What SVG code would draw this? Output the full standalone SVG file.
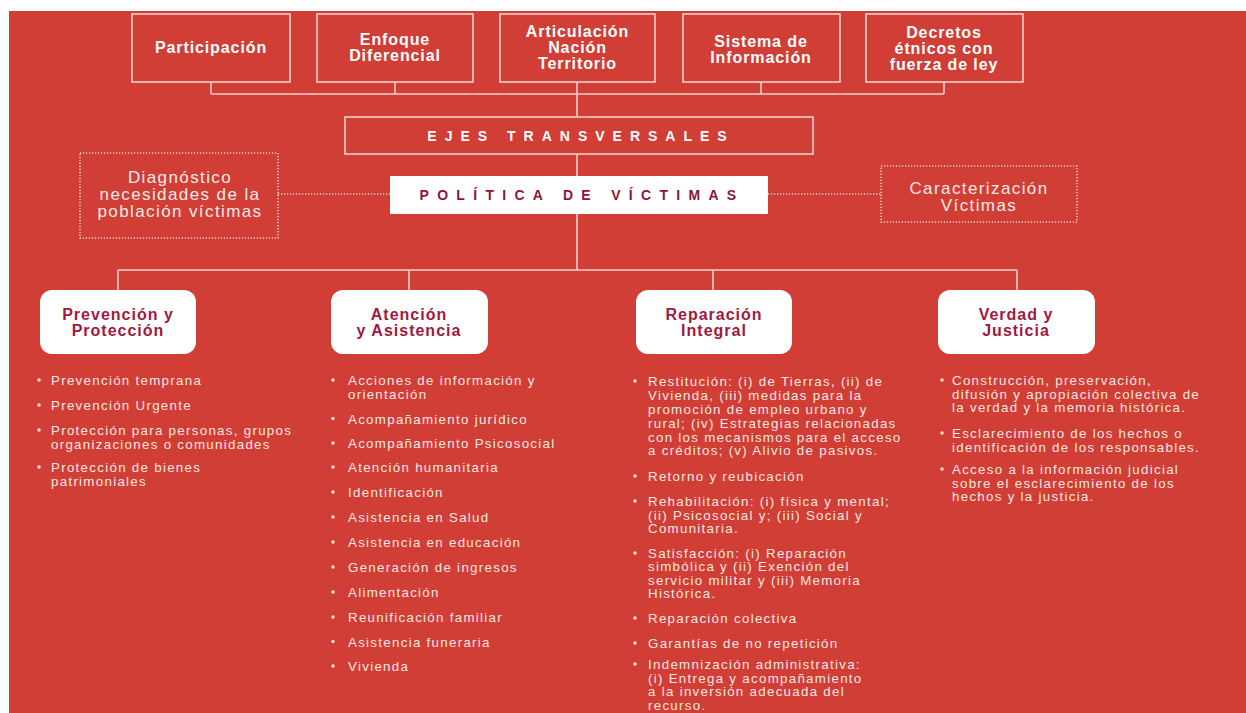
<svg xmlns="http://www.w3.org/2000/svg" width="1246" height="713" viewBox="0 0 1246 713">
<style>
.frame{fill:none;stroke:#EFCFCA;stroke-width:1.6}
.dframe{fill:none;stroke:#EFCFCA;stroke-width:1.6;stroke-dasharray:1.2 1.8}
.conn line{stroke:#EFCFCA;stroke-width:1.6}
.conn .dl{stroke-dasharray:1.2 1.8}
.wbox{fill:#FFFFFF}
text{font-family:"Liberation Sans",Arial,sans-serif}
.tt{fill:#FFFFFF;font-size:16px;font-weight:bold;text-anchor:middle;letter-spacing:0.9px}
.sp{fill:#FFFFFF;font-size:14px;font-weight:bold;text-anchor:middle;letter-spacing:8px}
.spr{fill:#8E1538;font-size:14px;font-weight:bold;text-anchor:middle;letter-spacing:8.3px}
.dt{fill:#FBEAE7;font-size:17px;text-anchor:middle;letter-spacing:1.4px}
.ch{fill:#A0193F;font-size:16px;font-weight:bold;text-anchor:middle;letter-spacing:1px}
.lt{fill:#FBE6E2;font-size:13.3px;letter-spacing:1.3px}
.bu{fill:#FBE6E2}
</style>
<rect x="0" y="0" width="1246" height="713" fill="#FFFFFF"/>
<rect x="9" y="11" width="1237" height="702" fill="#D03E36"/>

<g id="connectors" class="conn">
<line x1="211" y1="82" x2="211" y2="94"/>
<line x1="395" y1="82" x2="395" y2="94"/>
<line x1="577" y1="82" x2="577" y2="117"/>
<line x1="761" y1="82" x2="761" y2="94"/>
<line x1="944" y1="82" x2="944" y2="94"/>
<line x1="211" y1="94" x2="944" y2="94"/>
<line x1="577" y1="154" x2="577" y2="176"/>
<line x1="577" y1="214" x2="577" y2="270"/>
<line x1="118" y1="270" x2="1017" y2="270"/>
<line x1="118" y1="270" x2="118" y2="290"/>
<line x1="409" y1="270" x2="409" y2="290"/>
<line x1="713" y1="270" x2="713" y2="290"/>
<line x1="1017" y1="270" x2="1017" y2="290"/>
<line class="dl" x1="278" y1="194" x2="390" y2="194"/>
<line class="dl" x1="768" y1="194" x2="881" y2="194"/>
</g>

<g id="participacion">
<rect class="frame" x="132" y="14" width="158" height="68"/>
<text class="tt" x="211" y="53">Participación</text>
</g>
<g id="enfoque">
<rect class="frame" x="317" y="14" width="156" height="68"/>
<text class="tt" x="395" y="45">Enfoque</text>
<text class="tt" x="395" y="61">Diferencial</text>
</g>
<g id="articulacion">
<rect class="frame" x="500" y="14" width="155" height="68"/>
<text class="tt" x="577.5" y="36.5">Articulación</text>
<text class="tt" x="577.5" y="52.5">Nación</text>
<text class="tt" x="577.5" y="68.5">Territorio</text>
</g>
<g id="sistema">
<rect class="frame" x="683" y="14" width="157" height="68"/>
<text class="tt" x="761" y="47">Sistema de</text>
<text class="tt" x="761" y="63">Información</text>
</g>
<g id="decretos">
<rect class="frame" x="866" y="14" width="157" height="68"/>
<text class="tt" x="944" y="37.5">Decretos</text>
<text class="tt" x="944" y="53.5">étnicos con</text>
<text class="tt" x="944" y="69.5">fuerza de ley</text>
</g>

<g id="ejes">
<rect class="frame" x="345" y="117" width="468" height="37"/>
<text class="sp" x="581" y="141">EJES TRANSVERSALES</text>
</g>
<g id="politica">
<rect class="wbox" x="390" y="176" width="378" height="38"/>
<text class="spr" x="582" y="200">POLÍTICA DE VÍCTIMAS</text>
</g>
<g id="diagnostico">
<rect class="dframe" x="80" y="153" width="198" height="85"/>
<text class="dt" x="180" y="183">Diagnóstico</text>
<text class="dt" x="180" y="200">necesidades de la</text>
<text class="dt" x="180" y="217">población víctimas</text>
</g>
<g id="caracterizacion">
<rect class="dframe" x="881" y="166" width="196" height="56"/>
<text class="dt" x="979" y="194">Caracterización</text>
<text class="dt" x="979" y="211">Víctimas</text>
</g>

<g id="prevencion">
<rect class="wbox" x="40" y="290" width="156" height="64" rx="12"/>
<text class="ch" x="118" y="320">Prevención y</text>
<text class="ch" x="118" y="336">Protección</text>
</g>
<g id="atencion">
<rect class="wbox" x="331" y="290" width="157" height="64" rx="12"/>
<text class="ch" x="409" y="320">Atención</text>
<text class="ch" x="409" y="336">y Asistencia</text>
</g>
<g id="reparacion">
<rect class="wbox" x="636" y="290" width="156" height="64" rx="12"/>
<text class="ch" x="714" y="320">Reparación</text>
<text class="ch" x="714" y="336">Integral</text>
</g>
<g id="verdad">
<rect class="wbox" x="938" y="290" width="157" height="64" rx="12"/>
<text class="ch" x="1016" y="320">Verdad y</text>
<text class="ch" x="1016" y="336">Justicia</text>
</g>

<g id="lista-prevencion">
<circle class="bu" cx="39" cy="380" r="1.7"/>
<circle class="bu" cx="39" cy="405" r="1.7"/>
<circle class="bu" cx="39" cy="430" r="1.7"/>
<circle class="bu" cx="39" cy="467" r="1.7"/>
<text class="lt" x="51" y="385">Prevención temprana</text>
<text class="lt" x="51" y="410">Prevención Urgente</text>
<text class="lt" x="51" y="435">Protección para personas, grupos</text>
<text class="lt" x="51" y="449">organizaciones o comunidades</text>
<text class="lt" x="51" y="472">Protección de bienes</text>
<text class="lt" x="51" y="486">patrimoniales</text>
</g>

<g id="lista-atencion">
<circle class="bu" cx="333" cy="380" r="1.7"/>
<circle class="bu" cx="333" cy="418.5" r="1.7"/>
<circle class="bu" cx="333" cy="443" r="1.7"/>
<circle class="bu" cx="333" cy="467" r="1.7"/>
<circle class="bu" cx="333" cy="492" r="1.7"/>
<circle class="bu" cx="333" cy="517" r="1.7"/>
<circle class="bu" cx="333" cy="542" r="1.7"/>
<circle class="bu" cx="333" cy="567" r="1.7"/>
<circle class="bu" cx="333" cy="592" r="1.7"/>
<circle class="bu" cx="333" cy="617" r="1.7"/>
<circle class="bu" cx="333" cy="641.5" r="1.7"/>
<circle class="bu" cx="333" cy="666" r="1.7"/>
<text class="lt" x="348" y="385">Acciones de información y</text>
<text class="lt" x="348" y="399">orientación</text>
<text class="lt" x="348" y="423.5">Acompañamiento jurídico</text>
<text class="lt" x="348" y="448">Acompañamiento Psicosocial</text>
<text class="lt" x="348" y="472">Atención humanitaria</text>
<text class="lt" x="348" y="497">Identificación</text>
<text class="lt" x="348" y="522">Asistencia en Salud</text>
<text class="lt" x="348" y="547">Asistencia en educación</text>
<text class="lt" x="348" y="572">Generación de ingresos</text>
<text class="lt" x="348" y="597">Alimentación</text>
<text class="lt" x="348" y="622">Reunificación familiar</text>
<text class="lt" x="348" y="646.5">Asistencia funeraria</text>
<text class="lt" x="348" y="671">Vivienda</text>
</g>

<g id="lista-reparacion">
<circle class="bu" cx="635" cy="381" r="1.7"/>
<circle class="bu" cx="635" cy="476" r="1.7"/>
<circle class="bu" cx="635" cy="501" r="1.7"/>
<circle class="bu" cx="635" cy="553" r="1.7"/>
<circle class="bu" cx="635" cy="618" r="1.7"/>
<circle class="bu" cx="635" cy="643" r="1.7"/>
<circle class="bu" cx="635" cy="664" r="1.7"/>
<text class="lt" x="648" y="386">Restitución: (i) de Tierras, (ii) de</text>
<text class="lt" x="648" y="400">Vivienda, (iii) medidas para la</text>
<text class="lt" x="648" y="414">promoción de empleo urbano y</text>
<text class="lt" x="648" y="428">rural; (iv) Estrategias relacionadas</text>
<text class="lt" x="648" y="441.5">con los mecanismos para el acceso</text>
<text class="lt" x="648" y="455">a créditos; (v) Alivio de pasivos.</text>
<text class="lt" x="648" y="481">Retorno y reubicación</text>
<text class="lt" x="648" y="506">Rehabilitación: (i) física y mental;</text>
<text class="lt" x="648" y="519.5">(ii) Psicosocial y; (iii) Social y</text>
<text class="lt" x="648" y="533">Comunitaria.</text>
<text class="lt" x="648" y="557.5">Satisfacción: (i) Reparación</text>
<text class="lt" x="648" y="571">simbólica y (ii) Exención del</text>
<text class="lt" x="648" y="584.5">servicio militar y (iii) Memoria</text>
<text class="lt" x="648" y="598">Histórica.</text>
<text class="lt" x="648" y="623">Reparación colectiva</text>
<text class="lt" x="648" y="648">Garantías de no repetición</text>
<text class="lt" x="648" y="669">Indemnización administrativa:</text>
<text class="lt" x="648" y="682.5">(i) Entrega y acompañamiento</text>
<text class="lt" x="648" y="696">a la inversión adecuada del</text>
<text class="lt" x="648" y="709.5">recurso.</text>
</g>

<g id="lista-verdad">
<circle class="bu" cx="942" cy="380" r="1.7"/>
<circle class="bu" cx="942" cy="433" r="1.7"/>
<circle class="bu" cx="942" cy="469" r="1.7"/>
<text class="lt" x="952" y="385">Construcción, preservación,</text>
<text class="lt" x="952" y="398.5">difusión y apropiación colectiva de</text>
<text class="lt" x="952" y="412">la verdad y la memoria histórica.</text>
<text class="lt" x="952" y="438">Esclarecimiento de los hechos o</text>
<text class="lt" x="952" y="451.5">identificación de los responsables.</text>
<text class="lt" x="952" y="474">Acceso a la información judicial</text>
<text class="lt" x="952" y="487.5">sobre el esclarecimiento de los</text>
<text class="lt" x="952" y="501">hechos y la justicia.</text>
</g>
</svg>
